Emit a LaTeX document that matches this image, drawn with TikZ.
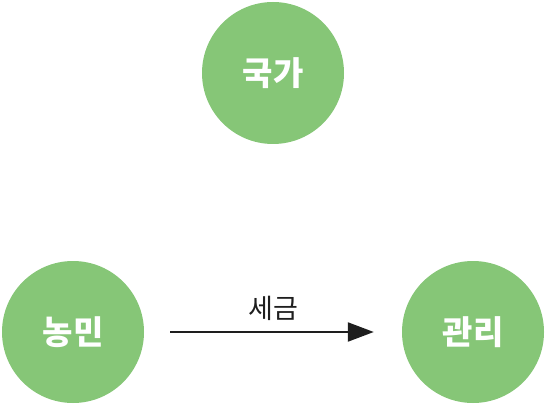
\documentclass[tikz,border=0pt]{standalone}
\usepackage{fontspec}
\setmainfont{Noto Sans CJK KR}
\usepackage{xcolor}
\usepackage{tikz}
\usetikzlibrary{positioning,arrows.meta,calc}
\definecolor{leafgreen}{RGB}{134,198,119}
\definecolor{inkgray}{RGB}{30,30,30}

\begin{document}
\begin{tikzpicture}[x=1pt,y=-1pt,
  actor/.style={circle, fill=leafgreen, minimum size=142pt, inner sep=0pt,
    text=white, font=\fontsize{33}{33}\selectfont\bfseries},
  flow/.style={-{Triangle[length=26pt,width=19pt]}, line width=2.2pt, draw=inkgray}]
\useasboundingbox (0,0) rectangle (546,406);
% the three actors
\node[actor] (state) at (273,73) {국가};
\node[actor] (farmer) at (73,332) {농민};
\node[actor] (official) at (473,332) {관리};
% tax flow
\draw[flow, shorten <=26pt, shorten >=28pt] (farmer) -- (official)
  node[midway, above=7pt, text=inkgray, font=\fontsize{27}{27}\selectfont] (tax) {세금};
\end{tikzpicture}
\end{document}
